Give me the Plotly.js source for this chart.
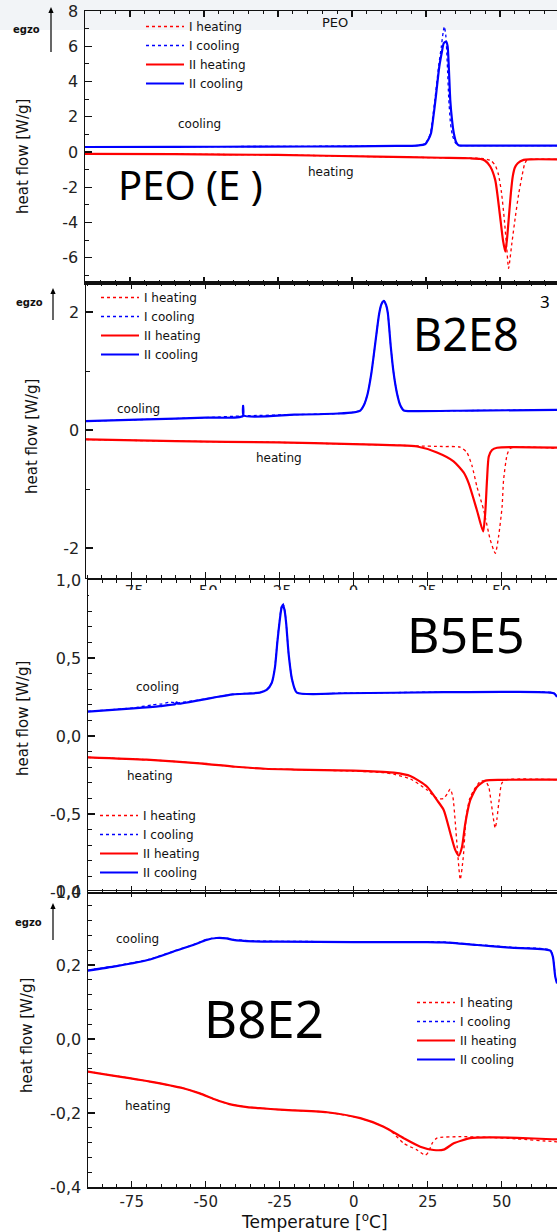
<!DOCTYPE html>
<html><head><meta charset="utf-8">
<script src="https://cdn.plot.ly/plotly-3.0.1.min.js"></script>
<style>html,body{margin:0;padding:0;background:#fff;}#chart{width:557px;height:1232px;}</style>
</head><body><div id="chart"></div>
<script>
// ---------- DATA (temperature in °C, heat flow in W/g) ----------
// Panel 1: PEO (E)
const peoHeatI_T  = [-90.2,-60,-25.3,8.4,30,42.2,44.5,47,48.5,49.5,50.5,51.5,52.3,52.9,54,55.2,56.3,57.4,58.3,59.1,60.2,69.3];
const peoHeatI_Q  = [-0.11,-0.13,-0.17,-0.27,-0.33,-0.36,-0.38,-0.5,-0.8,-1.3,-2.3,-3.9,-5.5,-6.61,-5.2,-3.67,-2.4,-1.4,-0.7,-0.45,-0.42,-0.42];
const peoCoolI_T  = [-90.2,-60,-30,0,15,22,24.6,25.6,26.5,27.3,28.0,29.3,30.2,30.8,31.2,31.7,32.2,32.7,33.3,34.0,35.0,36.0,40,55,69.3];
const peoCoolI_Q  = [0.29,0.30,0.31,0.33,0.35,0.37,0.45,0.7,1.06,2.0,2.95,4.9,6.0,6.8,7.12,6.6,5.0,3.0,1.6,0.9,0.5,0.38,0.36,0.36,0.36];
const peoHeatII_T = [-90.2,-60,-25.3,8.4,30,40,43.4,45,46.7,48.4,49.9,51.0,51.8,52.4,53.1,53.7,54.3,55.0,56.0,58.0,60.2,69.3];
const peoHeatII_Q = [-0.11,-0.13,-0.17,-0.27,-0.33,-0.36,-0.40,-0.5,-0.83,-1.6,-3.48,-5.0,-5.66,-4.9,-3.48,-2.3,-1.4,-0.9,-0.64,-0.45,-0.42,-0.42];
const peoCoolII_T = [-90.2,-60,-30,0,15,22,24.8,25.8,26.7,27.5,28.2,29.5,30.4,31.0,31.8,32.3,32.7,33.2,33.8,34.4,35.2,36.0,40,55,69.3];
const peoCoolII_Q = [0.28,0.29,0.30,0.32,0.34,0.36,0.45,0.7,1.06,2.0,2.95,4.85,5.7,6.17,6.27,6.0,4.85,2.95,1.8,1.06,0.55,0.38,0.36,0.36,0.36];

// Panel 2: B2E8
const b28HeatI_T  = [-90.4,-60,-25.8,0,15,21.5,30,36,38.3,40,41.7,44,46.2,47.9,49.0,50.2,50.7,51.9,53.0,68.75];
const b28HeatI_Q  = [-0.16,-0.19,-0.21,-0.24,-0.26,-0.27,-0.28,-0.29,-0.38,-0.6,-0.96,-1.36,-1.86,-2.09,-1.81,-1.30,-0.85,-0.42,-0.31,-0.31];
const b28CoolI_T  = [-90.4,-70,-50,-37,-20,-5,0,2.3,3.5,4.8,6.0,7.2,8.7,9.5,10.1,11.0,11.6,12.6,13.6,14.7,15.8,17.0,20,40,68.75];
const b28CoolI_Q  = [0.15,0.18,0.21,0.24,0.26,0.28,0.30,0.33,0.42,0.62,0.95,1.41,1.98,2.14,2.21,2.12,1.98,1.41,0.95,0.62,0.42,0.33,0.32,0.33,0.34];
const b28HeatII_T = [-90.4,-60,-25.8,0,15,21.5,28.2,33.8,37.2,38.9,41.7,43.8,44.5,45.1,45.7,46.8,48.5,68.75];
const b28HeatII_Q = [-0.16,-0.19,-0.21,-0.24,-0.26,-0.28,-0.38,-0.53,-0.72,-0.90,-1.36,-1.72,-1.41,-0.85,-0.45,-0.34,-0.30,-0.30];
const b28CoolII_T = [-90.4,-70,-50,-37.4,-37.3,-37.1,-20,-5,0,2.3,3.5,4.8,6.0,7.2,8.7,9.5,10.2,11.0,11.6,12.6,13.6,14.7,15.8,17.0,20,40,68.75];
const b28CoolII_Q = [0.15,0.18,0.21,0.235,0.41,0.245,0.26,0.28,0.30,0.33,0.42,0.62,0.95,1.41,1.98,2.14,2.19,2.12,1.98,1.41,0.95,0.62,0.42,0.33,0.32,0.33,0.34];

// Panel 3: B5E5
const b55HeatI_T  = [-89.8,-70,-52,-40,-30,-20,0,10,13.5,19.1,24.8,28.1,30.4,31.6,32.6,33.5,34.3,35.0,36.0,37.0,38.0,39.2,40.5,42.8,44.5,45.6,46.4,47.2,47.8,48.4,49.0,50.1,51.8,68.7];
const b55HeatI_Q  = [-0.137,-0.152,-0.175,-0.197,-0.21,-0.215,-0.225,-0.235,-0.245,-0.275,-0.346,-0.40,-0.40,-0.37,-0.34,-0.39,-0.55,-0.72,-0.92,-0.78,-0.52,-0.40,-0.35,-0.29,-0.29,-0.325,-0.42,-0.53,-0.59,-0.53,-0.43,-0.30,-0.28,-0.28];
const b55CoolI_T  = [-89.8,-74.5,-68,-65,-62,-60,-51.9,-46.3,-40.7,-31.7,-29.4,-27.7,-26.6,-25.8,-25.0,-24.4,-23.9,-23.3,-22.8,-22.0,-20.8,-19.2,-3.4,30.4,52.9,67.6,68.7];
const b55CoolI_Q  = [0.158,0.18,0.2,0.205,0.218,0.212,0.232,0.25,0.268,0.279,0.296,0.34,0.45,0.61,0.75,0.83,0.85,0.81,0.72,0.53,0.36,0.279,0.275,0.282,0.284,0.275,0.25];
const b55HeatII_T = [-89.8,-70,-52,-40,-30,-20,0,10,13.5,19.1,24.8,28.1,30.4,32.6,34.3,35.5,36.6,37.7,39.4,41.7,44.5,50,68.7];
const b55HeatII_Q = [-0.137,-0.152,-0.175,-0.197,-0.21,-0.215,-0.222,-0.23,-0.235,-0.256,-0.325,-0.41,-0.474,-0.62,-0.73,-0.767,-0.71,-0.56,-0.41,-0.325,-0.286,-0.281,-0.28];
const b55CoolII_T = [-89.8,-74.5,-65.4,-60.2,-59.8,-59.4,-51.9,-46.3,-40.7,-31.7,-29.4,-27.7,-26.6,-25.8,-25.0,-24.4,-23.9,-23.3,-22.8,-22.0,-20.8,-19.2,-3.4,30.4,52.9,67.6,68.7];
const b55CoolII_Q = [0.156,0.177,0.192,0.205,0.215,0.207,0.23,0.25,0.267,0.278,0.295,0.34,0.44,0.6,0.74,0.82,0.84,0.80,0.72,0.53,0.36,0.278,0.274,0.281,0.283,0.274,0.25];

// Panel 4: B8E2
const b82HeatI_T  = [-89.8,-68.8,-57.6,-52,-47,-42,-36,-31.7,-24.9,-9,2.2,10.1,12.4,16.9,21.4,24.2,25.3,26.5,28.1,36,46,55,67,68.7];
const b82HeatI_Q  = [-0.088,-0.115,-0.133,-0.147,-0.163,-0.176,-0.184,-0.187,-0.191,-0.198,-0.214,-0.237,-0.247,-0.282,-0.30,-0.314,-0.305,-0.282,-0.268,-0.264,-0.266,-0.27,-0.277,-0.278];
const b82CoolI_T  = [-89.8,-80.1,-68.8,-61,-54.2,-49.7,-46.3,-43,-40.7,-33.9,-25,0,25,30.4,41.7,52.9,66.4,67.3,68.1,68.7];
const b82CoolI_Q  = [0.186,0.198,0.216,0.237,0.255,0.269,0.274,0.273,0.269,0.265,0.264,0.263,0.263,0.262,0.255,0.248,0.240,0.223,0.170,0.15];
const b82HeatII_T = [-89.8,-68.8,-57.6,-52,-47,-42,-36,-31.7,-24.9,-9,2.2,10.1,16.9,22.5,27,30.4,33.8,39.4,46.1,55.2,67,68.7];
const b82HeatII_Q = [-0.088,-0.115,-0.133,-0.147,-0.163,-0.176,-0.184,-0.187,-0.191,-0.198,-0.214,-0.237,-0.268,-0.291,-0.30,-0.299,-0.282,-0.268,-0.266,-0.267,-0.271,-0.271];
const b82CoolII_T = [-89.8,-80.1,-68.8,-61,-54.2,-49.7,-46.3,-43,-40.7,-33.9,-25,0,25,30.4,41.7,52.9,66.4,67.3,68.1,68.7];
const b82CoolII_Q = [0.185,0.197,0.215,0.236,0.254,0.268,0.273,0.272,0.268,0.264,0.263,0.262,0.262,0.261,0.254,0.247,0.239,0.222,0.168,0.15];

// Tick labels
const xTickVals = [-75,-50,-25,0,25,50];
const xTickText = ['-75','-50','-25','0','25','50'];
const peoTickVals = [-6,-4,-2,0,2,4,6,8];
const peoTickText = ['-6','-4','-2','0','2','4','6','8'];
const b28TickVals = [-2,0,2];
const b28TickText = ['-2','0','2'];
const b55TickVals = [-1,-0.5,0,0.5,1];
const b55TickText = ['-1,0','-0,5','0,0','0,5','1,0'];
const b82TickVals = [-0.4,-0.2,0,0.2,0.4];
const b82TickText = ['-0,4','-0,2','0,0','0,2','0,4'];
const seriesNames = ['I heating','I cooling','II heating','II cooling'];

// ---------- LAYOUT HELPERS ----------
const W = 557, H = 1232;
const X = px => px / W;
const Y = py => 1 - py / H;
const RED = '#ff0000', BLUE = '#0000ff';
const FONT = 'DejaVu Sans';

function series(xs, ys, k, xa, ya, leg) {
  const dotted = k < 2;
  const col = (k % 2 === 0) ? RED : BLUE;
  return {
    type: 'scatter', mode: 'lines', x: xs, y: ys, name: seriesNames[k],
    xaxis: xa, yaxis: ya, legend: leg,
    line: {color: col, width: dotted ? 1.3 : 2.2, dash: dotted ? 'dot' : 'solid', shape: 'spline', smoothing: 0.6}
  };
}

const data = [
  series(peoHeatI_T, peoHeatI_Q, 0, 'x', 'y', 'legend'),
  series(peoCoolI_T, peoCoolI_Q, 1, 'x', 'y', 'legend'),
  series(peoHeatII_T, peoHeatII_Q, 2, 'x', 'y', 'legend'),
  series(peoCoolII_T, peoCoolII_Q, 3, 'x', 'y', 'legend'),
  series(b28HeatI_T, b28HeatI_Q, 0, 'x2', 'y2', 'legend2'),
  series(b28CoolI_T, b28CoolI_Q, 1, 'x2', 'y2', 'legend2'),
  series(b28HeatII_T, b28HeatII_Q, 2, 'x2', 'y2', 'legend2'),
  series(b28CoolII_T, b28CoolII_Q, 3, 'x2', 'y2', 'legend2'),
  series(b55HeatI_T, b55HeatI_Q, 0, 'x3', 'y3', 'legend3'),
  series(b55CoolI_T, b55CoolI_Q, 1, 'x3', 'y3', 'legend3'),
  series(b55HeatII_T, b55HeatII_Q, 2, 'x3', 'y3', 'legend3'),
  series(b55CoolII_T, b55CoolII_Q, 3, 'x3', 'y3', 'legend3'),
  series(b82HeatI_T, b82HeatI_Q, 0, 'x4', 'y4', 'legend4'),
  series(b82CoolI_T, b82CoolI_Q, 1, 'x4', 'y4', 'legend4'),
  series(b82HeatII_T, b82HeatII_Q, 2, 'x4', 'y4', 'legend4'),
  series(b82CoolII_T, b82CoolII_Q, 3, 'x4', 'y4', 'legend4')
];

function xAxis(left, range, anchor, labels, standoff) {
  return {
    domain: [X(left), 1], range: range, anchor: anchor, automargin: false,
    showline: true, linecolor: '#111', linewidth: 1.5, mirror: 'ticks',
    ticks: 'inside', ticklen: 6, tickwidth: 1.2, tickcolor: '#111',
    tickmode: 'array', tickvals: xTickVals, ticktext: xTickText,
    minor: {ticks: 'inside', ticklen: 3, tickwidth: 1, tickcolor: '#111', tickmode: 'linear', tick0: 0, dtick: 5},
    showticklabels: labels, ticklabelstandoff: standoff,
    tickfont: {family: FONT, size: 15, color: '#222'},
    showgrid: false, zeroline: false, fixedrange: true
  };
}
function yAxis(top, bottom, range, anchor, vals, text, minorDtick) {
  return {
    domain: [Y(bottom), Y(top)], range: range, anchor: anchor, automargin: false,
    showline: true, linecolor: '#111', linewidth: 1.5, mirror: false,
    ticks: 'inside', ticklen: 7, tickwidth: 1.2, tickcolor: '#111',
    tickmode: 'array', tickvals: vals, ticktext: text,
    minor: {ticks: 'inside', ticklen: 4, tickwidth: 1, tickcolor: '#111', tickmode: 'linear', tick0: 0, dtick: minorDtick},
    ticklabelstandoff: 2,
    tickfont: {family: FONT, size: 16, color: '#222'},
    showgrid: false, zeroline: false, fixedrange: true
  };
}

function txt(text, px, py, size, extra) {
  return Object.assign({
    text: text, x: X(px), y: Y(py), xref: 'paper', yref: 'paper',
    showarrow: false, xanchor: 'center', yanchor: 'middle',
    font: {family: FONT, size: size, color: '#111'}
  }, extra || {});
}
const ytitle = (px, py) => txt('heat flow [W/g]', px, py, 15, {textangle: -90});
const big = (t, px, py, size) => txt(t, px, py, size, {font: {family: 'Noto Sans', size: size, color: '#000'}});
const egzo = (px, py) => txt('<b>egzo</b>', px, py, 10, {font: {family: FONT, size: 10, color: '#111'}});

function arrow(px, tail, head) {
  return [
    {type: 'line', xref: 'paper', yref: 'paper', x0: X(px), x1: X(px), y0: Y(tail), y1: Y(head + 4), line: {color: '#000', width: 1.2}},
    {type: 'path', xref: 'paper', yref: 'paper',
     path: 'M ' + X(px - 2.6) + ' ' + Y(head + 6) + ' L ' + X(px) + ' ' + Y(head) + ' L ' + X(px + 2.6) + ' ' + Y(head + 6) + ' Z',
     fillcolor: '#000', line: {width: 0}}
  ];
}

function legendAt(px, py) {
  return {x: X(px), y: Y(py), xref: 'paper', yref: 'paper', xanchor: 'left', yanchor: 'top',
    bgcolor: 'rgba(0,0,0,0)', borderwidth: 0, itemwidth: 38, traceorder: 'normal',
    font: {family: FONT, size: 12, color: '#111'}};
}

const layout = {
  width: W, height: H, margin: {l: 0, r: 0, t: 0, b: 0},
  paper_bgcolor: '#ffffff', plot_bgcolor: 'rgba(0,0,0,0)',
  showlegend: true,
  xaxis:  xAxis(85, [-90.2, 69.26], 'y', false, 3),
  xaxis2: xAxis(86, [-90.37, 68.75], 'y2', true, 0),
  xaxis3: xAxis(88, [-89.76, 68.68], 'y3', false, 3),
  xaxis4: xAxis(88, [-89.76, 68.68], 'y4', true, 0),
  yaxis:  yAxis(11, 283, [-7.44, 8], 'x', peoTickVals, peoTickText, 1),
  yaxis2: yAxis(282.5, 577.5, [-2.5, 2.5], 'x2', b28TickVals, b28TickText, 1),
  yaxis3: yAxis(580, 892, [-1, 1], 'x3', b55TickVals, b55TickText, 0.1),
  yaxis4: yAxis(891, 1187, [-0.4, 0.4], 'x4', b82TickVals, b82TickText, 0.04),
  legend:  legendAt(141, 12),
  legend2: legendAt(96, 283),
  legend3: legendAt(95, 801),
  legend4: legendAt(412, 988),
  shapes: [
    {type: 'rect', xref: 'paper', yref: 'paper', x0: 0, x1: 1, y0: Y(30), y1: 1, fillcolor: '#f2f4f7', line: {width: 0}, layer: 'below'},
    {type: 'rect', xref: 'paper', yref: 'paper', x0: X(89), x1: 1, y0: Y(602), y1: Y(590), fillcolor: '#ffffff', line: {width: 0}, layer: 'above'}
  ].concat(arrow(51, 52, 7), arrow(53, 320, 288), arrow(53, 940, 903)),
  annotations: [
    txt('PEO', 335, 22, 13),
    txt('cooling', 199, 124, 12), txt('heating', 331, 172, 12),
    txt('cooling', 138, 409, 12), txt('heating', 279, 458, 12),
    txt('cooling', 157, 687, 12), txt('heating', 150, 776, 12),
    txt('cooling', 137, 939, 12), txt('heating', 148, 1106, 12),
    big('PEO (E )', 191, 184, 40), big('B2E8', 466, 333, 45),
    big('B5E5', 466, 634, 50), big('B8E2', 264, 1018, 51),
    big('3', 545, 302, 17),
    ytitle(23, 157), ytitle(32, 437), ytitle(23, 719), ytitle(27, 1036),
    txt('Temperature [<sup>o</sup>C]', 314, 1221, 17),
    egzo(26, 30), egzo(29, 303), egzo(28, 922)
  ]
};

Plotly.newPlot('chart', data, layout, {displayModeBar: false, staticPlot: true});
</script></body></html>
